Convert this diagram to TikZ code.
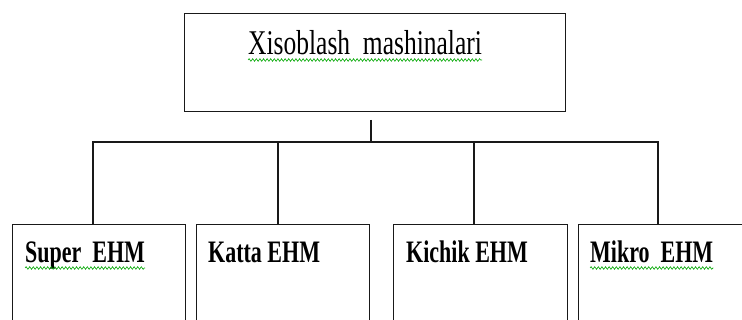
\documentclass[tikz,border=0pt]{standalone}
\usepackage{fontspec}
\setmainfont{Liberation Serif}
\usetikzlibrary{decorations.pathmorphing}
\tikzset{
  boxnode/.style={draw=black!90, line width=1.3pt, rectangle, inner sep=0pt, anchor=north west},
  toptext/.style={inner sep=0pt, anchor=base west, font=\fontsize{25.5pt}{28pt}\selectfont},
  lowtext/.style={inner sep=0pt, anchor=base west, font=\fontsize{22pt}{24pt}\selectfont\bfseries},
  link/.style={draw=black!90, line width=1.3pt},
  spell/.style={draw=green!65!black, line width=0.6pt, decorate, decoration={snake, amplitude=1.3pt, segment length=3.6pt}}
}
\begin{document}
\begin{tikzpicture}[x=1pt,y=-1pt]
\useasboundingbox (0,0) rectangle (742,320);
\clip (0,0) rectangle (742,320);
% boxes
\node[boxnode, minimum width=381pt, minimum height=98pt] (top) at (184,13) {};
\node[boxnode, minimum width=173pt, minimum height=120pt] (b1) at (12,224) {};
\node[boxnode, minimum width=173pt, minimum height=120pt] (b2) at (196,224) {};
\node[boxnode, minimum width=174pt, minimum height=120pt] (b3) at (393,224) {};
\node[boxnode, minimum width=190pt, minimum height=120pt] (b4) at (578,224) {};
% texts
\node[toptext] (t0) at (248,55) {\scalebox{1}[1.36]{Xisoblash\ \ mashinalari}};
\node[lowtext] (t1) at (25,263) {\scalebox{1}[1.42]{Super\ \ EHM}};
\node[lowtext] (t2) at (208,263) {\scalebox{1}[1.42]{Katta EHM}};
\node[lowtext] (t3) at (406,263) {\scalebox{1}[1.42]{Kichik EHM}};
\node[lowtext] (t4) at (590,263) {\scalebox{1}[1.42]{Mikro\ \ EHM}};
% spell-check underlines
\draw[spell] ([yshift=-5pt]t0.base west) -- ([yshift=-5pt]t0.base east);
\draw[spell] ([yshift=-5pt]t1.base west) -- ([yshift=-5pt]t1.base east);
\draw[spell] ([yshift=-5pt]t4.base west) -- ([yshift=-5pt]t4.base east);
% connectors
\coordinate (stem) at (371,120);
\coordinate (bus) at (371,142);
\coordinate (d1) at (93,224);
\coordinate (d2) at (278,224);
\coordinate (d3) at (474,224);
\coordinate (d4) at (658,224);
\draw[link] (stem) -- (bus);
\draw[link] (d1) -- (d1 |- bus) -- (d4 |- bus) -- (d4);
\draw[link] (d2) -- (d2 |- bus);
\draw[link] (d3) -- (d3 |- bus);
\end{tikzpicture}
\end{document}
